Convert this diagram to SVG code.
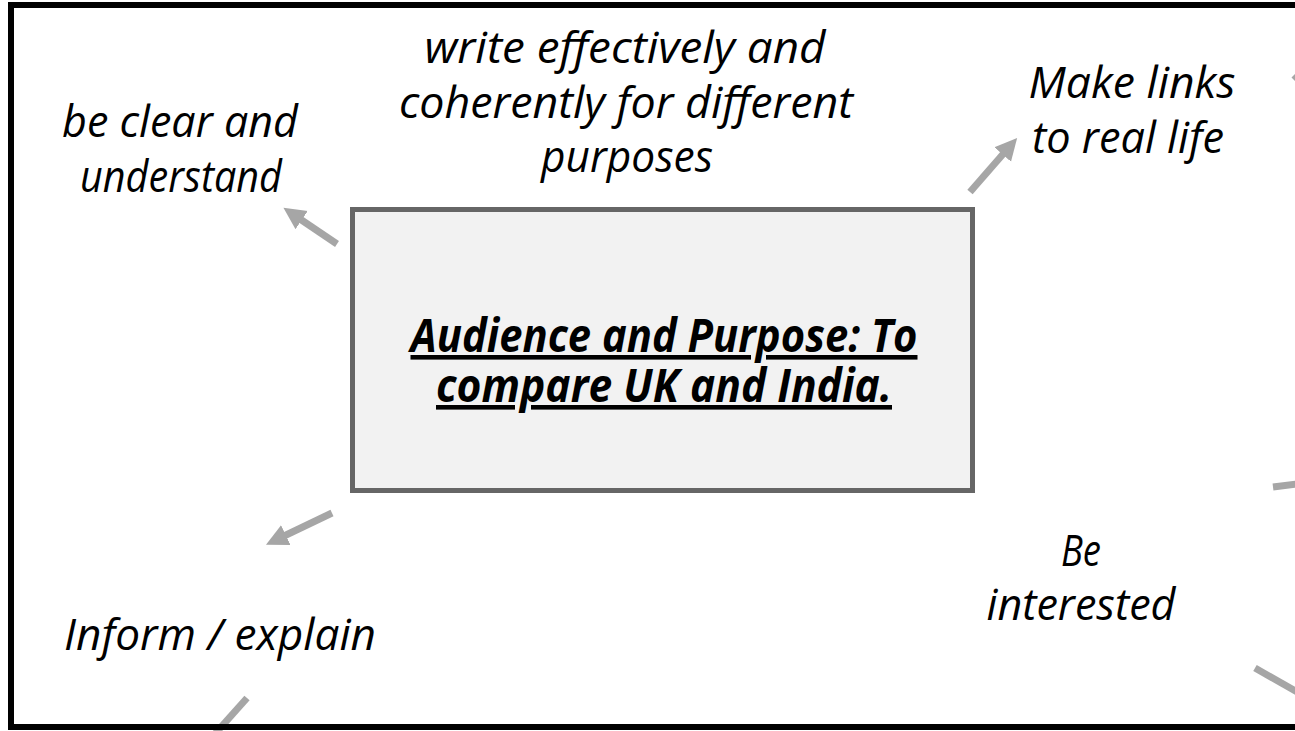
<svg xmlns="http://www.w3.org/2000/svg" width="1295" height="731" viewBox="0 0 1295 731">
<style>
.t{font-family:"Open Sans","Liberation Sans",sans-serif;font-style:italic;font-size:44px;fill:#000;text-anchor:middle}
.c{font-weight:bold;text-decoration:underline;font-size:46px}
.a{stroke:#a6a6a6;stroke-width:7;fill:none}
</style>
<defs>
<marker id="h" markerUnits="userSpaceOnUse" markerWidth="24" markerHeight="24" refX="2" refY="11" orient="auto" viewBox="0 0 24 22">
<path d="M0,0 L22,11 L0,22 z" fill="#a6a6a6"/>
</marker>
</defs>
<rect width="1295" height="731" fill="#fff"/>
<g id="connectors">
<line class="a" x1="337" y1="244" x2="300" y2="219" marker-end="url(#h)"/>
<line class="a" x1="970" y1="192" x2="1004" y2="153" marker-end="url(#h)"/>
<line class="a" x1="332" y1="513" x2="284" y2="536" marker-end="url(#h)"/>
<line class="a" x1="247" y1="698" x2="205" y2="745"/>
<line class="a" x1="1273" y1="487" x2="1320" y2="481"/>
<line class="a" x1="1255" y1="668" x2="1320" y2="705"/>
<line class="a" x1="1294" y1="80" x2="1300" y2="74"/>
</g>
<path d="M1300,5 H11 V727 H1300" fill="none" stroke="#000" stroke-width="6"/>
<g id="center">
<rect x="352.5" y="209.5" width="620" height="281" fill="#f2f2f2" stroke="#666" stroke-width="5"/>
<text class="t c" x="664" y="352" textLength="507" lengthAdjust="spacingAndGlyphs">Audience and Purpose: To</text>
<text class="t c" x="664" y="402" textLength="456" lengthAdjust="spacingAndGlyphs">compare UK and India.</text>
</g>
<g id="clear">
<text class="t" x="180" y="137" textLength="236" lengthAdjust="spacingAndGlyphs">be clear and</text>
<text class="t" x="181" y="192" textLength="202" lengthAdjust="spacingAndGlyphs">understand</text>
</g>
<g id="write">
<text class="t" x="625" y="63" textLength="401" lengthAdjust="spacingAndGlyphs">write effectively and</text>
<text class="t" x="626" y="118" textLength="454" lengthAdjust="spacingAndGlyphs">coherently for different</text>
<text class="t" x="627" y="172" textLength="172" lengthAdjust="spacingAndGlyphs">purposes</text>
</g>
<g id="links">
<text class="t" x="1132" y="98" textLength="207" lengthAdjust="spacingAndGlyphs">Make links</text>
<text class="t" x="1128" y="153" textLength="192" lengthAdjust="spacingAndGlyphs">to real life</text>
</g>
<g id="interested">
<text class="t" x="1081" y="566" textLength="40" lengthAdjust="spacingAndGlyphs">Be</text>
<text class="t" x="1081" y="620" textLength="189" lengthAdjust="spacingAndGlyphs">interested</text>
</g>
<g id="inform">
<text class="t" x="220" y="650" textLength="312" lengthAdjust="spacingAndGlyphs">Inform / explain</text>
</g>
</svg>
